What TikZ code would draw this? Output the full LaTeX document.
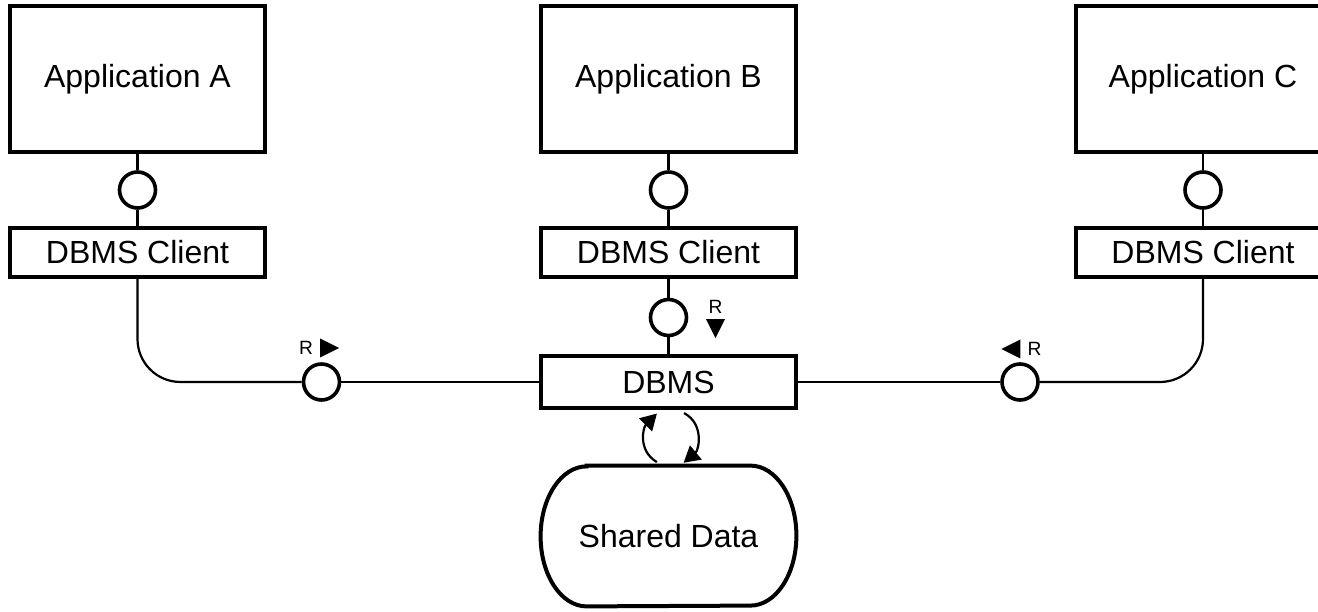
\documentclass[tikz,border=0pt]{standalone}
\usepackage{fontspec}
\setmainfont{Liberation Sans}
\usetikzlibrary{arrows.meta,calc}
\tikzset{
  box/.style={draw, line width=2pt, minimum width=127.5pt, inner sep=0pt, font=\fontsize{16}{19}\selectfont},
  port/.style={circle, draw, line width=1.8pt, minimum size=18pt, inner sep=0pt},
  conn/.style={line width=1.1pt},
  rmark/.style={inner sep=0pt, font=\fontsize{9.6}{11}\selectfont}
}
\begin{document}
\begin{tikzpicture}[x=5pt,y=5pt]
  \useasboundingbox (0,0) rectangle (131.8,61.1);
  \clip (0,0) rectangle (131.8,61.1);
  % Anwendungen
  \foreach \n/\x in {A/13.75,B/66.85,C/120.3} {
   \node[box, minimum height=73pt] (app\n) at (\x,53.2) {Application \n};
   \node[port] (circ\n) at (\x,42.1) {};
   \node[box, minimum height=24.5pt] (client\n) at (\x,35.85) {DBMS Client};
   \draw[conn] (app\n) -- (circ\n) -- (client\n);
  }
  % DBMS und Schnittstellen
  \node[box, minimum height=26pt] (dbms) at (66.85,22.9) {DBMS};
  \node[port] (ifA) at (32.15,22.9) {};
  \node[port] (ifB) at (66.85,29.35) {};
  \node[port] (ifC) at (102.0,22.9) {};
  \draw[conn, rounded corners=21.5pt] (clientA.south) |- (ifA.west);
  \draw[conn] (ifA) -- (dbms);
  \draw[conn] (clientB) -- (ifB) -- (dbms);
  \draw[conn, rounded corners=21.5pt] (clientC.south) |- (ifC.east);
  \draw[conn] (ifC) -- (dbms);
  % Leserichtung R
  \node[rmark] (rA) at (30.6,26.3) {R};
  \fill ([xshift=3.4pt]rA.east) ++(0,0.95) -- ++(1.9,-0.95) -- ++(-1.9,-0.95) -- cycle;
  \node[rmark] (rB) at (71.55,30.4) {R};
  \fill ([yshift=-2.6pt]rB.south) ++(-0.95,0) -- ++(1.9,0) -- ++(-0.95,-1.9) -- cycle;
  \node[rmark] (rC) at (103.45,26.2) {R};
  \fill ([xshift=-3.4pt]rC.west) ++(0,0.95) -- ++(-1.9,-0.95) -- ++(1.9,-0.95) -- cycle;
  % Gemeinsame Daten
  \node[font=\fontsize{16}{19}\selectfont, minimum width=127.5pt, minimum height=70pt, inner sep=0pt] (sd) at (66.85,7.5) {Shared Data};
  \draw[line width=2pt] ([xshift=23pt]sd.north west) -- ([xshift=-23pt]sd.north east)
   arc[start angle=90, end angle=-90, x radius=23pt, y radius=35pt]
   -- ([xshift=23pt]sd.south west)
   arc[start angle=270, end angle=90, x radius=23pt, y radius=35pt] -- cycle;
  % Zugriff (Schleife)
  \coordinate (loop) at ($(dbms.south)!0.5!(sd.north)+(1.2pt,0)$);
  \draw[conn, -{Triangle[length=8pt,width=9pt]}] ([shift={(240:14pt)}]loop)
   .. controls +(150:11pt) and +(225:10pt) .. ([shift={(120:14pt)}]loop);
  \draw[conn, -{Triangle[length=8pt,width=9pt]}] ([shift={(62:14pt)}]loop)
   .. controls +(-28:11.5pt) and +(40:10pt) .. ([shift={(-63:14pt)}]loop);
 \end{tikzpicture}
\end{document}
